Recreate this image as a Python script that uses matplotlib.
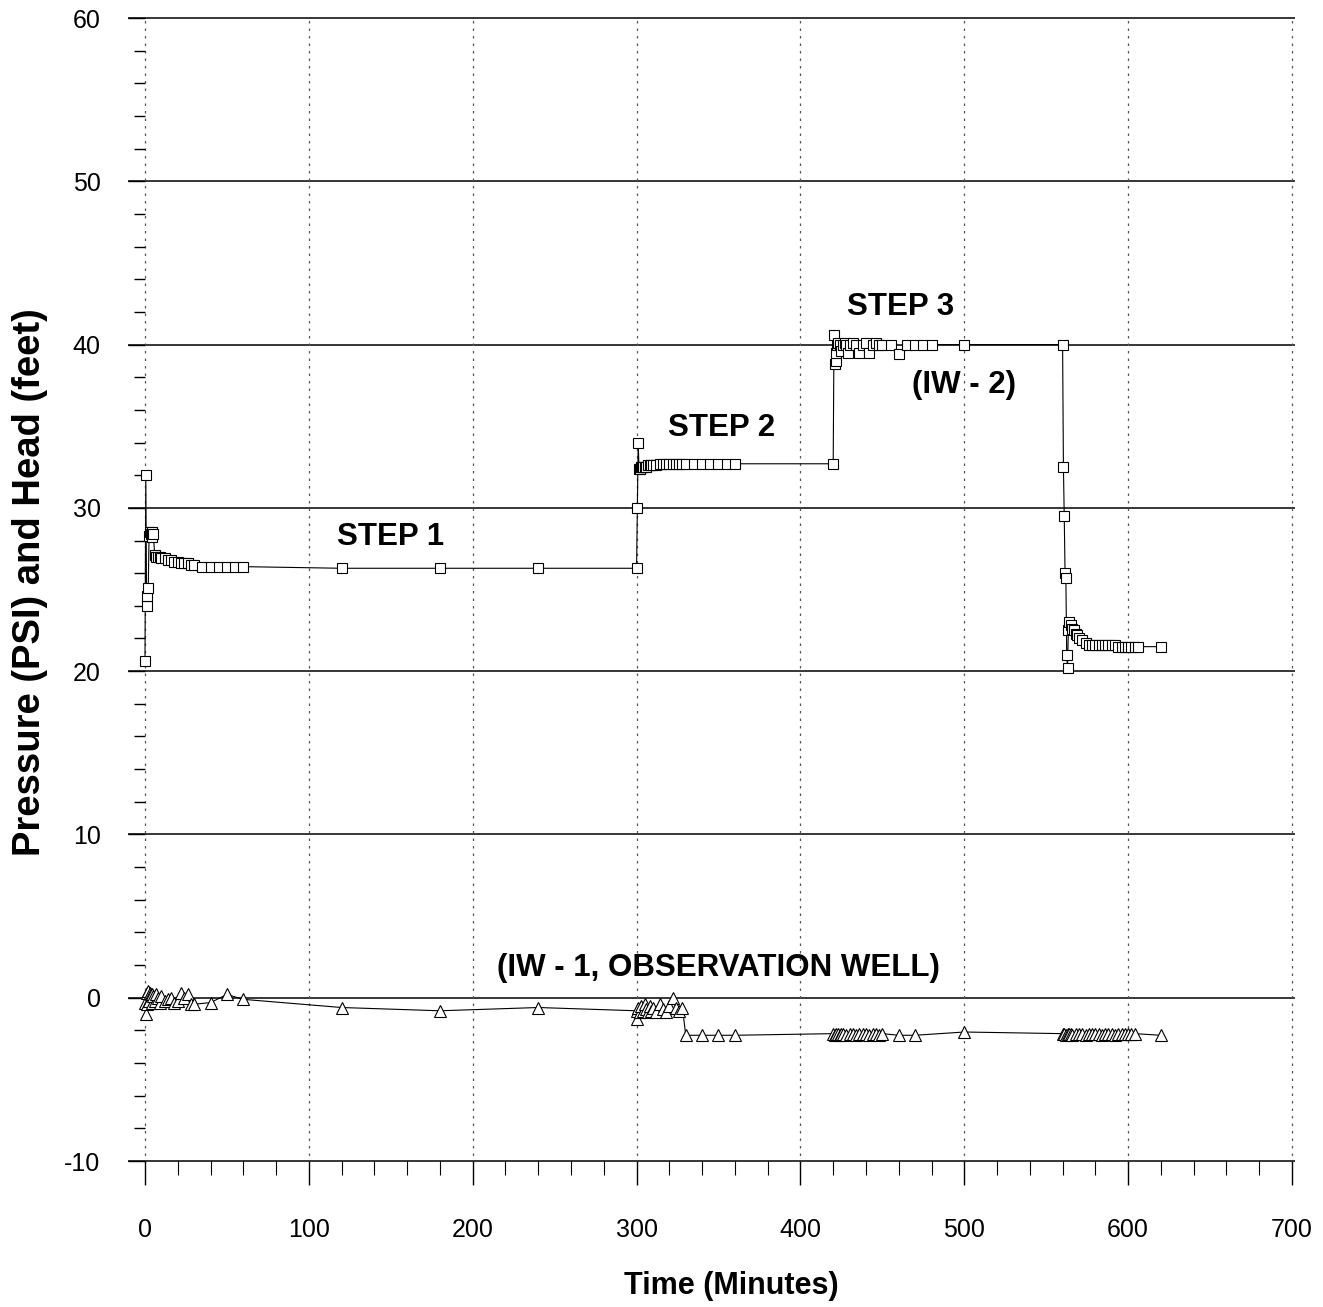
import matplotlib
matplotlib.use("Agg")
import matplotlib.pyplot as plt
from matplotlib.ticker import MultipleLocator

# IW-2 (injection well) pressure, squares
t_iw2 = [0, 0.5, 1, 1.5, 2, 2.5, 3, 3.5, 4, 4.5, 5, 6, 7, 8, 9, 10, 12, 14, 16,
         18, 20, 22, 24, 26, 28, 30, 35, 40, 45, 50, 55, 60, 120, 180, 240,
         300, 300.5, 301, 301.5, 302, 302.5, 303, 303.5, 304, 305, 306, 307,
         308, 309, 310, 312, 314, 316, 318, 320, 322, 324, 326, 328, 330, 335,
         340, 345, 350, 355, 360, 420,
         420.5, 421, 421.5, 422, 422.5, 423, 424, 425, 426, 427, 428, 429, 430,
         432, 434, 436, 438, 440, 442, 444, 446, 448, 450, 455, 460, 465, 470,
         475, 480, 500, 560,
         560.5, 561, 561.5, 562, 562.5, 563, 563.5, 564, 565, 566, 567, 568,
         569, 570, 572, 574, 576, 578, 580, 582, 584, 586, 588, 590, 592, 594,
         596, 598, 600, 602, 604, 606, 620]
p_iw2 = [20.6, 32.0, 24.0, 24.6, 25.1, 28.3, 28.5, 28.4, 28.2, 28.5, 28.4,
         27.1, 27.0, 27.0, 27.0, 26.9, 26.9, 26.8, 26.8, 26.7, 26.7, 26.6,
         26.6, 26.6, 26.5, 26.5, 26.4, 26.4, 26.4, 26.4, 26.4, 26.4, 26.3,
         26.3, 26.3,
         26.3, 30.0, 34.0, 32.4, 32.4, 32.5, 32.5, 32.5, 32.5, 32.5, 32.5,
         32.6, 32.6, 32.6, 32.6, 32.6, 32.7, 32.7, 32.7, 32.7, 32.7, 32.7,
         32.7, 32.7, 32.7, 32.7, 32.7, 32.7, 32.7, 32.7, 32.7, 32.7,
         40.6, 38.8, 39.0, 39.5, 40.0, 40.1, 40.0, 39.6, 40.0, 40.1, 40.0,
         39.5, 40.0, 40.1, 40.0, 39.5, 40.0, 40.1, 39.5, 40.0, 40.1, 40.0,
         40.0, 40.0, 39.4, 40.0, 40.0, 40.0, 40.0, 40.0, 40.0,
         32.5, 29.5, 26.0, 25.7, 21.0, 20.2, 22.5, 23.0, 22.8, 22.6, 22.5,
         22.3, 22.2, 22.0, 21.9, 21.7, 21.6, 21.6, 21.6, 21.6, 21.6, 21.6,
         21.6, 21.6, 21.6, 21.5, 21.5, 21.5, 21.5, 21.5, 21.5, 21.5, 21.5]

# IW-1 (observation well) head, triangles
t_iw1 = [0, 0.5, 1, 1.5, 2, 2.5, 3, 3.5, 4, 4.5, 5, 6, 7, 8, 9, 10, 12, 14, 16,
         18, 20, 22, 24, 26, 28, 30, 40, 50, 60, 120, 180, 240,
         300, 300.5, 301, 302, 303, 304, 305, 306, 307, 308, 309, 310, 312,
         314, 316, 318, 320, 322, 324, 326, 328, 330, 340, 350, 360,
         420, 421, 422, 423, 424, 425, 426, 428, 430, 432, 434, 436, 438, 440,
         442, 444, 446, 448, 450, 460, 470, 500,
         560, 561, 562, 563, 564, 565, 566, 568, 570, 572, 574, 576, 578, 580,
         582, 584, 586, 588, 590, 592, 594, 596, 598, 600, 602, 604, 620]
p_iw1 = [-0.3, -1.0, -0.4, 0.3, 0.4, -0.2, 0.3, 0.2, -0.3, 0.2, 0.1, -0.2, 0.2,
         0.0, -0.3, 0.1, -0.2, -0.1, 0.0, -0.3, -0.2, 0.3, 0.0, 0.2, -0.4,
         -0.4, -0.3, 0.2, -0.1, -0.6, -0.8, -0.6,
         -0.8, -1.3, -0.6, -0.9, -0.5, -0.8, -0.4, -0.7, -0.9, -0.5, -0.8,
         -0.6, -0.9, -0.4, -0.7, -0.9, -0.5, 0.0, -0.6, -0.8, -0.6, -2.3,
         -2.3, -2.3, -2.3,
         -2.2, -2.3, -2.2, -2.2, -2.3, -2.2, -2.2, -2.3, -2.2, -2.2, -2.3,
         -2.2, -2.2, -2.2, -2.3, -2.2, -2.2, -2.3, -2.2, -2.3, -2.3, -2.1,
         -2.2, -2.2, -2.3, -2.2, -2.2, -2.2, -2.3, -2.2, -2.2, -2.2, -2.3,
         -2.2, -2.2, -2.2, -2.2, -2.3, -2.2, -2.2, -2.2, -2.3, -2.2, -2.2,
         -2.2, -2.2, -2.2, -2.2, -2.3]

x_ticks = [0, 100, 200, 300, 400, 500, 600, 700]
y_ticks = [-10, 0, 10, 20, 30, 40, 50, 60]

plt.rcParams['font.family'] = ['Liberation Sans', 'DejaVu Sans']
plt.rcParams['axes.unicode_minus'] = False

fig = plt.figure(figsize=(13.23, 13.07), dpi=100)
ax = fig.add_axes([0.0967, 0.10983, 0.88235, 0.87827])

ax.plot(t_iw2, p_iw2, color='black', lw=0.8, marker='s', ms=7,
        mfc='white', mec='black', mew=0.8, zorder=3)
ax.plot(t_iw1, p_iw1, color='black', lw=0.8, marker='^', ms=8.5,
        mfc='white', mec='black', mew=0.8, zorder=3)

ax.set_xlim(-10.4, 702)
ax.set_ylim(-10.15, 60.15)

# horizontal solid grid, vertical dotted grid
for y in y_ticks:
    ax.axhline(y, color='black', lw=1.1, zorder=1)
for x in x_ticks:
    ax.axvline(x, color='#555555', lw=0.9, ls=(0, (2, 4)), zorder=1)

for s in ['top', 'right']:
    ax.spines[s].set_visible(False)
ax.spines['left'].set_position(('data', 0))
ax.spines['left'].set_visible(False)
ax.spines['bottom'].set_position(('data', -10))
ax.spines['bottom'].set_visible(False)

ax.set_xticks(x_ticks)
ax.set_yticks(y_ticks)
ax.xaxis.set_minor_locator(MultipleLocator(20))
ax.yaxis.set_minor_locator(MultipleLocator(2))
ax.tick_params(axis='y', which='major', direction='out', length=12, width=1,
               pad=20, labelsize=18)
ax.tick_params(axis='y', which='minor', direction='out', length=8, width=1)
ax.tick_params(axis='x', which='major', direction='out', length=17, width=1,
               pad=24, labelsize=18)
ax.tick_params(axis='x', which='minor', direction='out', length=10, width=0.8)

txt = dict(fontsize=22.5, fontweight='bold', ha='center', va='center')
ax.text(150, 28.2, 'STEP 1', **txt)
ax.text(352, 34.9, 'STEP 2', **txt)
ax.text(461, 42.3, 'STEP 3', **txt)
ax.text(500, 37.5, '(IW - 2)', **txt)
ax.text(350, 1.85, '(IW - 1, OBSERVATION WELL)', **txt)

fig.text(731 / 1323, 1 - 1286 / 1307, 'Time (Minutes)', fontsize=22,
         fontweight='bold', ha='center', va='center')
fig.text(30 / 1323, 1 - 582 / 1307, 'Pressure (PSI) and Head (feet)',
         fontsize=27.5, fontweight='bold', ha='center', va='center', rotation=90)

fig.savefig('out.png', dpi=100)
